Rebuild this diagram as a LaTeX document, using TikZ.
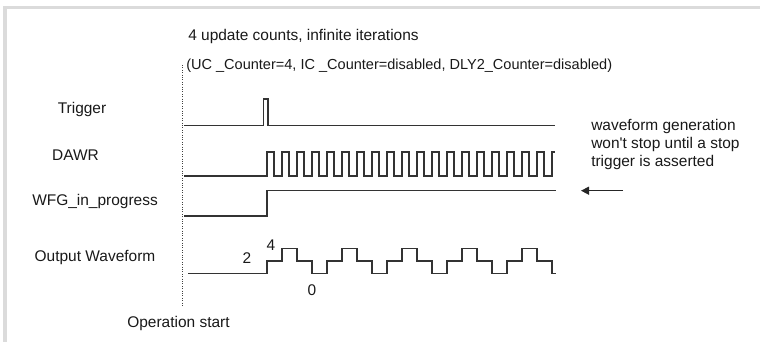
\documentclass[tikz,border=0pt]{standalone}
\usepackage{fontspec}
\setmainfont{Liberation Sans}
\usetikzlibrary{arrows.meta,positioning}

\begin{document}
\begin{tikzpicture}[x=0.75pt, y=-0.75pt, signal/.style={draw=black!80, line width=1.2pt}, txt/.style={font=\fontsize{11.6}{13.5}\selectfont, text=black!90, inner sep=0pt}, marker/.style={densely dotted, line width=0.8pt, black!75}, line/.style={-{Triangle[length=6pt,width=6pt]}, line width=1pt, black!85}]
\useasboundingbox (0,0) rectangle (760,342);
\fill[gray!28] (3,6) rectangle (760,9);
\fill[gray!28] (3,6) rectangle (6.5,342);
\node[txt,anchor=west] (title) at (188,37) {4 update counts, infinite iterations};
\node[txt,anchor=west,font=\fontsize{10.9}{13}\selectfont] (counters) at (186,66) {(UC \_Counter=4, IC \_Counter=disabled, DLY2\_Counter=disabled)};
\node[txt] (trig) at (82,110) {Trigger};
\node[txt] (dawr) at (75.5,155) {DAWR};
\node[txt] (wfg) at (95,202) {WFG\_in\_progress};
\node[txt] (outw) at (95,258) {Output Waveform};
\node[txt] (opstart) at (178.5,323) {Operation start};
\node[txt,anchor=west,align=left] (note) at (591,145) {waveform generation\\won\textquotesingle t stop until a stop\\trigger is asserted};
\node[txt] (lvtwo) at (247,258) {2};
\node[txt] (lvfour) at (271,245) {4};
\node[txt] (lvzero) at (312,290) {0};
\coordinate (starttop) at (182.7,65);
\coordinate (startbot) at (182.7,307);
\draw[marker] (starttop) -- (startbot);
\draw[signal] (184,125.5) -- (263.5,125.5) -- (263.5,99) -- (268,99) -- (268,125.5) -- (555,125.5);
\draw[signal] (184,176) \foreach \k in {0,...,18} { -- ({266.7+15*\k},176) -- ++(0,-24) -- ++(7,0) -- ++(0,24) } -- (551.7,176) -- ++(0,-24) -- ++(3,0);
\draw[signal] (184,216) -- (266.7,216) -- (266.7,190.7) -- (556,190.7);
\draw[signal] (188,273.5) \foreach \p in {0,...,4} { -- ({267+60*\p},273.5) -- ++(0,-12.5) -- ++(15,0) -- ++(0,-12.5) -- ++(15,0) -- ++(0,12.5) -- ++(15,0) -- ++(0,12.5) } -- (556,273.5);
\coordinate (arrowtail) at (623,190.7);
\coordinate (arrowtip) at (581,190.7);
\draw[line] (arrowtail) -- (arrowtip);
\end{tikzpicture}
\end{document}
